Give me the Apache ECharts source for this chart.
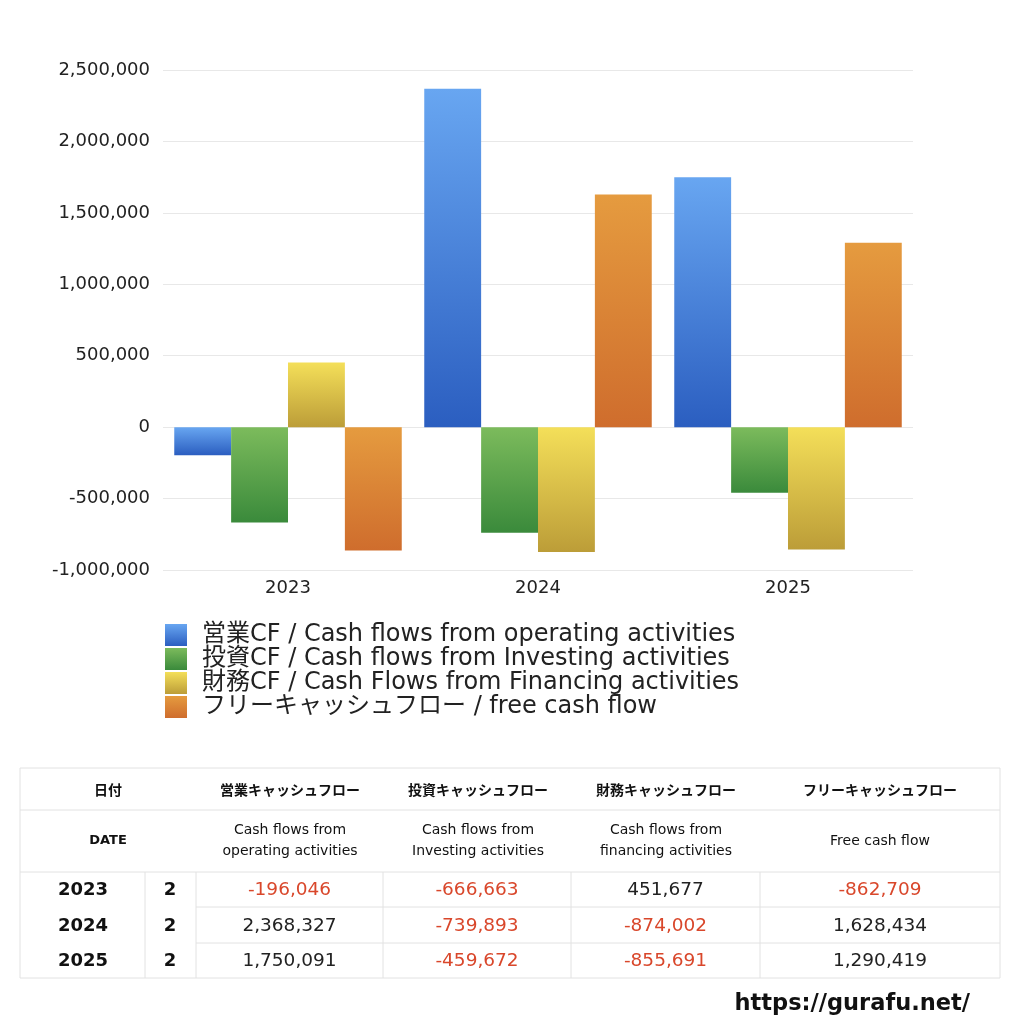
<!DOCTYPE html>
<html>
<head>
<meta charset="utf-8">
<script src="https://cdn.jsdelivr.net/npm/echarts@6/dist/echarts.min.js"></script>
<style>
html,body{margin:0;padding:0;background:#fff;}
#chart{width:1024px;height:1024px;}
</style>
</head>
<body>
<div id="chart"></div>
<script>
const years = ['2023', '2024', '2025'];
const periodNo = ['2', '2', '2'];
const operatingCF = [-196046, 2368327, 1750091];
const investingCF = [-666663, -739893, -459672];
const financingCF = [451677, -874002, -855691];
const freeCF = [-862709, 1628434, 1290419];
const seriesNames = [
  '営業CF / Cash flows from operating activities',
  '投資CF / Cash flows from Investing activities',
  '財務CF / Cash Flows from Financing activities',
  'フリーキャッシュフロー / free cash flow'
];
const tableHeadJa = ['日付', '営業キャッシュフロー', '投資キャッシュフロー', '財務キャッシュフロー', 'フリーキャッシュフロー'];
const tableHeadEn = ['DATE', 'Cash flows from\noperating activities', 'Cash flows from\nInvesting activities', 'Cash flows from\nfinancing activities', 'Free cash flow'];
const siteUrl = 'https://gurafu.net/';

const FONT = "'DejaVu Sans', 'Noto Sans CJK JP', sans-serif";
const grads = [
  ['#68a6f1', '#2b5ec0'],
  ['#7cbb5c', '#3a8a3b'],
  ['#f4df59', '#bc9d38'],
  ['#e59b3f', '#cf6d2d']
];
function grad(c) {
  return new echarts.graphic.LinearGradient(0, 0, 0, 1, [
    { offset: 0, color: c[0] }, { offset: 1, color: c[1] }
  ]);
}
const fmt = v => v.toLocaleString('en-US');
const seriesData = [operatingCF, investingCF, financingCF, freeCF];

// table graphic
const tX0 = 20, tX1 = 1000;
const rowY = [768, 810, 872, 907, 943, 978];
const colX = [20, 145, 196, 383, 571, 760, 1000];
const lineCol = '#e2e2e2';
const g = [];
function hline(x1, x2, y) { g.push({ type: 'line', shape: { x1, y1: y, x2, y2: y }, style: { stroke: lineCol, lineWidth: 1 }, silent: true }); }
function vline(x, y1, y2) { g.push({ type: 'line', shape: { x1: x, y1, x2: x, y2 }, style: { stroke: lineCol, lineWidth: 1 }, silent: true }); }
function txt(x, y, s, size, weight, color, lh, fam) {
  g.push({ type: 'text', x, y, silent: true, style: { text: s, fontSize: size, fontWeight: weight, fill: color, fontFamily: fam || FONT, align: 'center', verticalAlign: 'middle', lineHeight: lh || size * 1.3 } });
}
// borders
hline(tX0, tX1, rowY[0]); hline(tX0, tX1, rowY[1]); hline(tX0, tX1, rowY[2]); hline(tX0, tX1, rowY[5]);
hline(colX[2], tX1, rowY[3]); hline(colX[2], tX1, rowY[4]);
vline(tX0, rowY[0], rowY[5]); vline(tX1, rowY[0], rowY[5]);
for (let i = 1; i < colX.length - 1; i++) vline(colX[i], rowY[2], rowY[5]);
// headers
const headCx = [108, 290, 478, 666, 880];
tableHeadJa.forEach((s, i) => txt(headCx[i], (rowY[0] + rowY[1]) / 2 + 1, s, 14, 'bold', '#111', 18, "'Noto Sans CJK JP', sans-serif"));
tableHeadEn.forEach((s, i) => txt(headCx[i], (rowY[1] + rowY[2]) / 2, s, i === 0 ? 13 : 14, i === 0 ? 'bold' : 'normal', '#111', 21));
// data rows
const valCx = [289.5, 477, 665.5, 880];
years.forEach((y, r) => {
  const cy = (rowY[2 + r] + rowY[3 + r]) / 2 + 1;
  txt(83, cy, y, 18, 'bold', '#111');
  txt(170, cy, periodNo[r], 18, 'bold', '#111');
  seriesData.forEach((arr, c) => {
    const v = arr[r];
    txt(valCx[c], cy, fmt(v), 18.5, 'normal', v < 0 ? '#d9472b' : '#222');
  });
});
g.push({ type: 'text', x: 970, y: 1004, silent: true, style: { text: siteUrl, fontSize: 22.5, fontWeight: 'bold', fill: '#111', fontFamily: FONT, align: 'right', verticalAlign: 'middle' } });

const chart = echarts.init(document.getElementById('chart'));
chart.setOption({
  backgroundColor: '#fff',
  animation: false,
  textStyle: { fontFamily: FONT },
  grid: { left: 163, right: 111, top: 70, bottom: 454, containLabel: false },
  legend: {
    orient: 'vertical', left: 160, top: 618,
    itemWidth: 22, itemHeight: 22, itemGap: 0,
    icon: 'rect',
    textStyle: { fontSize: 24, color: '#222', fontFamily: FONT, lineHeight: 22, padding: [0, 0, 0, 10] },
    data: seriesNames
  },
  xAxis: {
    type: 'category', data: years,
    axisLine: { show: false }, axisTick: { show: false },
    axisLabel: { fontSize: 18, color: '#222', margin: 9 }
  },
  yAxis: {
    type: 'value', min: -1000000, max: 2500000, interval: 500000,
    axisLine: { show: false }, axisTick: { show: false },
    axisLabel: { fontSize: 18, color: '#222', margin: 13, formatter: v => fmt(v) },
    splitLine: { lineStyle: { color: '#e8e8e8' } }
  },
  series: seriesData.map((arr, i) => ({
    name: seriesNames[i], type: 'bar', data: arr,
    barGap: '0%', barCategoryGap: '9%',
    itemStyle: { color: grad(grads[i]) }
  })),
  graphic: g
});
</script>
</body>
</html>
